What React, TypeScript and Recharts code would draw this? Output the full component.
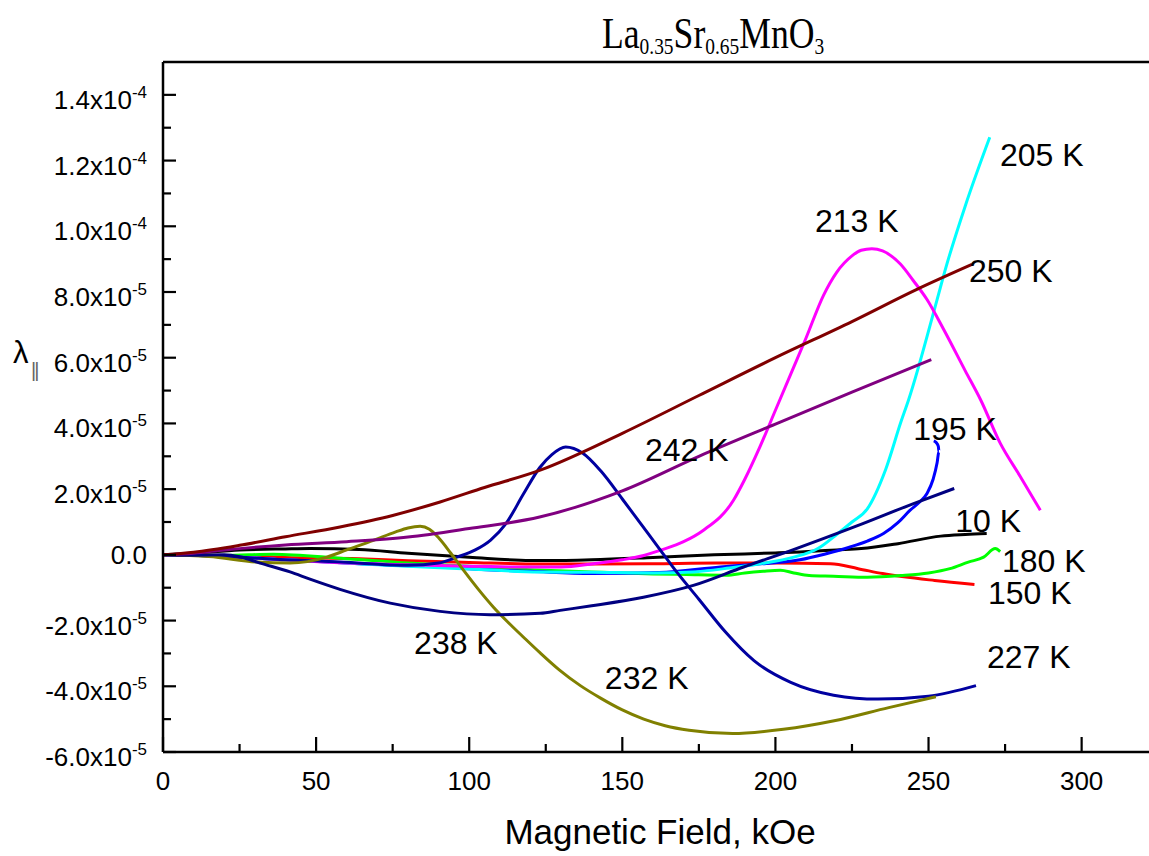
import React from 'react';
import { ComposedChart, Line, Scatter, XAxis, YAxis, ReferenceLine } from 'recharts';

const SANS = '"Liberation Sans", Arial, sans-serif';
const SERIF = '"Liberation Serif", "Times New Roman", serif';

// Values of lambda are in units of 1e-5 ; field in kOe
const F_10K = [0, 10, 25, 40, 48, 64, 80, 100, 120, 130, 140, 160, 180, 200, 208, 220, 228, 240, 254, 262, 269];
const L_10K = [0, 0.05, 0.15, 0.18, 0.19, 0.16, 0.05, -0.07, -0.17, -0.17, -0.15, -0.08, 0, 0.06, 0.09, 0.15, 0.19, 0.34, 0.57, 0.62, 0.65];

const F_150K = [0, 20, 40, 64, 80, 100, 123, 140, 160, 181, 200, 218, 227, 235, 252, 265];
const L_150K = [0, -0.02, -0.08, -0.12, -0.18, -0.23, -0.28, -0.28, -0.27, -0.25, -0.25, -0.27, -0.42, -0.57, -0.78, -0.9];

const F_180K = [0, 20, 36, 58, 80, 100, 120, 140, 160, 171, 184, 190, 196, 201.6, 206, 211, 219, 230, 241, 250, 257, 263, 268, 271.8, 273.4];
const L_180K = [0, -0.02, 0.02, -0.1, -0.25, -0.35, -0.45, -0.52, -0.58, -0.6, -0.62, -0.55, -0.5, -0.47, -0.55, -0.63, -0.65, -0.68, -0.63, -0.55, -0.42, -0.22, -0.07, 0.19, 0.1];

const F_195K = [0, 20, 40, 60, 80, 90, 100, 120, 140, 162, 182, 193, 208, 216, 224.4, 230, 235.3, 240, 244, 247, 249.5, 251.5, 252.8, 253.4, 253.2, 252.5, 251.7];
const L_195K = [0, -0.05, -0.15, -0.25, -0.33, -0.35, -0.42, -0.5, -0.57, -0.54, -0.37, -0.29, -0.15, 0.02, 0.24, 0.42, 0.65, 0.98, 1.36, 1.6, 1.87, 2.3, 2.8, 3.15, 3.3, 3.42, 3.47];

const F_205K = [0, 20, 40, 60, 80, 100, 123, 140, 160, 173, 185, 195, 206, 214, 220, 225, 230, 236, 241, 243.5, 252.8, 255.5, 262, 270];
const L_205K = [0, -0.05, -0.15, -0.25, -0.35, -0.43, -0.52, -0.53, -0.55, -0.52, -0.4, -0.27, -0.07, 0.2, 0.62, 1.0, 1.4, 2.6, 4.05, 4.72, 7.77, 8.69, 10.62, 12.71];

const F_213K = [0, 20, 40, 60, 80, 100, 120, 130, 140.6, 150, 157, 162.4, 170, 176.5, 186.3, 190, 195, 200, 205, 210, 215.7, 220, 225, 228, 231.5, 235, 240.8, 245, 249.5, 255, 262, 267, 273.4, 280, 286.5];
const L_213K = [0, -0.05, -0.15, -0.25, -0.3, -0.35, -0.37, -0.37, -0.27, -0.15, -0.02, 0.14, 0.4, 0.75, 1.66, 2.3, 3.3, 4.4, 5.5, 6.6, 7.9, 8.6, 9.1, 9.27, 9.32, 9.25, 8.85, 8.35, 7.77, 6.85, 5.6, 4.72, 3.4, 2.38, 1.36];

const F_227K = [0, 20, 40, 58, 80, 90, 96, 102, 107, 112, 117.7, 123, 127, 131.5, 137, 143, 150, 156, 162, 168, 175, 183.7, 193, 205, 219, 233.5, 250, 265.5];
const L_227K = [0, -0.05, -0.15, -0.22, -0.32, -0.25, -0.07, 0.15, 0.45, 0.95, 1.85, 2.65, 3.05, 3.28, 3.1, 2.55, 1.7, 0.95, 0.2, -0.55, -1.35, -2.35, -3.22, -3.88, -4.27, -4.39, -4.3, -3.98];

const F_232K = [0, 15, 30.6, 41.5, 53.5, 60, 68.7, 76, 80, 84, 87, 90, 94, 98, 103, 108, 113, 118, 123, 129.4, 136.3, 142.9, 150, 157, 164, 171.8, 186, 202.6, 219.2, 237, 252.4];
const L_232K = [0, -0.05, -0.22, -0.25, -0.07, 0.15, 0.44, 0.7, 0.82, 0.87, 0.78, 0.52, 0.05, -0.45, -1.05, -1.6, -2.08, -2.53, -2.97, -3.5, -3.98, -4.36, -4.72, -5.0, -5.2, -5.34, -5.44, -5.31, -5.05, -4.65, -4.32];

const F_238K = [0, 10, 20, 25, 31.7, 41.5, 48, 57.8, 74.2, 90.5, 106.8, 123.2, 129.7, 140, 156.9, 173.2, 189.6, 205.9, 226.6, 246.2, 258.4];
const L_238K = [0, -0.01, 0, -0.06, -0.25, -0.52, -0.74, -1.05, -1.47, -1.72, -1.82, -1.78, -1.69, -1.55, -1.29, -0.93, -0.37, 0.16, 0.88, 1.6, 2.02];

const F_242K = [0, 10, 20, 40, 60, 80, 100, 123, 150, 175, 200, 225, 250.9];
const L_242K = [0, 0.05, 0.15, 0.3, 0.4, 0.54, 0.8, 1.15, 1.95, 3.0, 3.98, 4.95, 5.94];

const F_250K = [0, 10, 25, 40, 57.8, 75, 90.5, 105, 123.2, 150, 175, 200, 225, 246.2, 264.2];
const L_250K = [0, 0.08, 0.29, 0.55, 0.85, 1.2, 1.61, 2.05, 2.58, 3.7, 4.85, 6.0, 7.1, 8.08, 8.84];

const SERIES = [
  { name: '10 K', color: '#000000', f: F_10K, l: L_10K },
  { name: '150 K', color: '#ff0000', f: F_150K, l: L_150K },
  { name: '180 K', color: '#00ff00', f: F_180K, l: L_180K },
  { name: '195 K', color: '#0000ff', f: F_195K, l: L_195K },
  { name: '205 K', color: '#00ffff', f: F_205K, l: L_205K },
  { name: '213 K', color: '#ff00ff', f: F_213K, l: L_213K },
  { name: '227 K', color: '#0000a0', f: F_227K, l: L_227K },
  { name: '232 K', color: '#808000', f: F_232K, l: L_232K },
  { name: '238 K', color: '#000080', f: F_238K, l: L_238K },
  { name: '242 K', color: '#800080', f: F_242K, l: L_242K },
  { name: '250 K', color: '#800000', f: F_250K, l: L_250K },
];

// Temperature labels (text start / baseline in data units)
const LABEL_TEXT = ['205 K', '213 K', '250 K', '195 K', '10 K', '180 K', '150 K', '227 K', '232 K', '238 K', '242 K'];
const LABEL_F = [273.3, 212.9, 263.2, 245.0, 258.7, 274.0, 269.4, 269.1, 144.3, 82.0, 157.4];
const LABEL_L = [11.85, 9.83, 8.31, 3.5, 0.7, -0.51, -1.49, -3.44, -4.08, -3.02, 2.86];

const X_TICKS = [0, 25, 50, 75, 100, 125, 150, 175, 200, 225, 250, 275, 300];
const X_LABELED = [0, 50, 100, 150, 200, 250, 300];

const Y_TICKS = [-6, -5, -4, -3, -2, -1, 0, 1, 2, 3, 4, 5, 6, 7, 8, 9, 10, 11, 12, 13, 14];
const Y_LABEL_VALUES = [-6, -4, -2, 0, 2, 4, 6, 8, 10, 12, 14];
const Y_LABEL_MANTISSA = ['-6.0x10', '-4.0x10', '-2.0x10', '0.0', '2.0x10', '4.0x10', '6.0x10', '8.0x10', '1.0x10', '1.2x10', '1.4x10'];
const Y_LABEL_EXP = ['-5', '-5', '-5', '', '-5', '-5', '-5', '-5', '-4', '-4', '-4'];

const toPoints = (xs: number[], ys: number[]) => xs.map((x, i) => ({ x, y: ys[i] }));
const LABEL_POINTS = LABEL_TEXT.map((t, i) => ({ x: LABEL_F[i], y: LABEL_L[i], text: t }));

const XTick = (props: any) => {
  const { x, y, payload } = props;
  const v = payload.value;
  const major = X_LABELED.indexOf(v) >= 0;
  return (
    <g>
      <line x1={x} y1={y} x2={x} y2={y - (major ? 15 : 8)} stroke="#000" strokeWidth={2.2} />
      {major && (
        <text x={x} y={y + 38} textAnchor="middle" fontFamily={SANS} fontSize={26} fill="#000">
          {String(v)}
        </text>
      )}
    </g>
  );
};

const YTick = (props: any) => {
  const { x, y, payload } = props;
  const v = payload.value;
  const i = Y_LABEL_VALUES.indexOf(v);
  const major = i >= 0;
  return (
    <g>
      <line x1={x} y1={y} x2={x + (major ? 13 : 8)} y2={y} stroke="#000" strokeWidth={2.2} />
      {major && (
        <text x={x - 16} y={y + (Y_LABEL_EXP[i] ? 14 : 9)} textAnchor="end" fontFamily={SANS} fontSize={26} fill="#000">
          {Y_LABEL_MANTISSA[i]}
          {Y_LABEL_EXP[i] ? <tspan dy={-11} fontSize={17}>{Y_LABEL_EXP[i]}</tspan> : null}
        </text>
      )}
    </g>
  );
};

const TitleContent = (props: any) => {
  const vb = props.viewBox || { x: 163, y: 62 };
  return (
    <g transform={`translate(${vb.x + 439}, ${vb.y - 14}) scale(0.81, 1)`}>
      <text x={0} y={0} fontFamily={SERIF} fontSize={44} fill="#000">
        La<tspan fontSize={24} dy={6}>0.35</tspan>
        <tspan dy={-6}>Sr</tspan>
        <tspan fontSize={24} dy={6}>0.65</tspan>
        <tspan dy={-6}>MnO</tspan>
        <tspan fontSize={24} dy={6}>3</tspan>
      </text>
    </g>
  );
};

const XLabelContent = (props: any) => {
  const vb = props.viewBox || { x: 163, y: 752, width: 986 };
  return (
    <text x={vb.x + vb.width / 2 + 4} y={vb.y + 92} textAnchor="middle" fontFamily={SANS} fontSize={35} fill="#000">
      Magnetic Field, kOe
    </text>
  );
};

const YLabelContent = (props: any) => {
  const vb = props.viewBox || { x: 0, y: 62 };
  return (
    <g>
      <text x={vb.x + 13} y={vb.y + 301} fontFamily={SANS} fontSize={31} fill="#000">λ</text>
      <text x={vb.x + 31} y={vb.y + 315} fontFamily={SANS} fontSize={20} fill="#666" letterSpacing={-2}>||</text>
    </g>
  );
};

const LabelShape = (props: any) => {
  const { cx, cy, payload } = props;
  return (
    <text x={cx} y={cy} fontFamily={SANS} fontSize={32} fill="#000">
      {payload.text}
    </text>
  );
};

export default function App() {
  return (
    <div style={{ position: 'absolute', left: 0, top: 0, width: 1149, height: 856, background: '#fff', overflow: 'hidden' }}>
      <ComposedChart width={1149} height={856} margin={{ top: 62, right: 0, bottom: 0, left: 0 }}>
        <XAxis
          type="number"
          dataKey="x"
          domain={[0, 322]}
          ticks={X_TICKS}
          interval={0}
          tick={(p: any) => <XTick {...p} />}
          tickLine={false}
          tickSize={0}
          tickMargin={0}
          height={104}
          axisLine={{ stroke: '#000', strokeWidth: 2.5 }}
          allowDataOverflow
          label={{ content: (p: any) => <XLabelContent {...p} /> }}
        />
        <YAxis
          type="number"
          domain={[-6, 15]}
          ticks={Y_TICKS}
          interval={0}
          tick={(p: any) => <YTick {...p} />}
          tickLine={false}
          tickSize={0}
          tickMargin={0}
          width={163}
          axisLine={{ stroke: '#000', strokeWidth: 2.5 }}
          allowDataOverflow
          label={{ content: (p: any) => <YLabelContent {...p} /> }}
        />
        <ReferenceLine y={15} stroke="#000" strokeWidth={2.5} label={{ content: (p: any) => <TitleContent {...p} /> }} />
        {SERIES.map((s) => (
          <Line
            key={s.name}
            name={s.name}
            data={toPoints(s.f, s.l)}
            dataKey="y"
            type="monotone"
            stroke={s.color}
            strokeWidth={3}
            dot={false}
            activeDot={false}
            isAnimationActive={false}
          />
        ))}
        <Scatter data={LABEL_POINTS} dataKey="y" isAnimationActive={false} shape={(p: any) => <LabelShape {...p} />} />
      </ComposedChart>
    </div>
  );
}
